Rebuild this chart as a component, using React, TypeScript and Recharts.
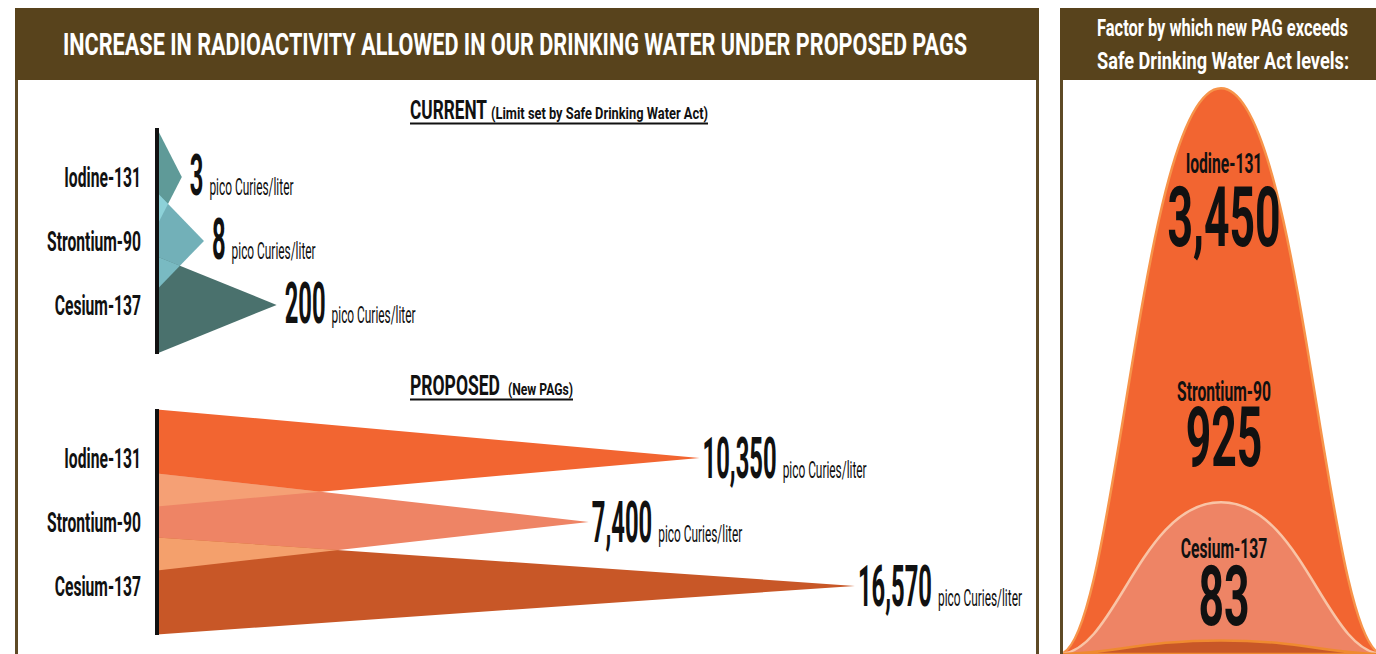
import React from 'react';
import { BarChart, Bar, XAxis, YAxis, Cell, LabelList } from 'recharts';

// --- data read from the infographic ---
const isotopes = ['Iodine-131', 'Strontium-90', 'Cesium-137'];
const currentLimits = [3, 8, 200]; // pCi/L, Safe Drinking Water Act
const proposedLimits = [10350, 7400, 16570]; // pCi/L, new PAGs
const exceedFactors = [3450, 925, 83];
const unitLabel = 'pico Curies/liter';

const currentData = isotopes.map((name, i) => ({ name, value: currentLimits[i] }));
const proposedData = isotopes.map((name, i) => ({ name, value: proposedLimits[i] }));
const factorRow = [
  { name: 'factor', iodine: exceedFactors[0], strontium: exceedFactors[1], cesium: exceedFactors[2] },
];

// --- styles ---
const HEADER = '#58431c';
const BORDER = '#5e4a26';
const FONT = 'Roboto, "Liberation Sans", sans-serif';
const CURRENT_COLORS = ['#5f9a98', '#72b0b8', '#4a716d'];
const CURRENT_OVERLAP = ['#8dd1d8', '#79bac2'];
const PROPOSED_COLORS = ['#f26531', '#ee8465', '#c85727'];
const PROPOSED_OVERLAP = ['#f5a075', '#f4a06c'];
const BELL_FILLS = ['#f26531', '#ee8465', '#c85727'];
const BELL_STROKES = ['#f7944a', '#f9c4a6', '#ef8a30'];
const TRI_HALF = 48.5;
const NUM_SX = 0.41;
const FACTOR_LABEL_Y = [173, 401, 558];
const FACTOR_VALUE_Y = [246, 466, 625];

let canvas: HTMLCanvasElement | null = null;
function measure(text: string, font: string) {
  if (!canvas) canvas = document.createElement('canvas');
  const ctx = canvas.getContext('2d')!;
  ctx.font = font;
  return ctx.measureText(text).width;
}

// condensed text: either squeezed to a width, or scaled horizontally
function Cond({ x, y, size, sx = 1, w, weight = 700, anchor = 'start', fill = '#111', children }: any) {
  if (w) {
    return (
      <text x={x} y={y} fontSize={size} fontWeight={weight} fontFamily={FONT} fill={fill}
        textLength={w} lengthAdjust="spacingAndGlyphs">{children}</text>
    );
  }
  return (
    <text transform={`translate(${x},${y}) scale(${sx},1)`} fontSize={size} fontWeight={weight}
      fontFamily={FONT} fill={fill} textAnchor={anchor}>{children}</text>
  );
}

function IsotopeTick({ x, y, payload }: any) {
  return <Cond x={x} y={y + 10} size={27} sx={0.58} anchor="end">{payload.value}</Cond>;
}

function makeTriangle(section: string, overlaps: string[]) {
  return (p: any) => {
    const { x, y, width, height, fill } = p;
    const idx = isotopes.indexOf(p.payload?.name ?? p.name);
    const cy = y + height / 2;
    const pts = `${x},${cy - TRI_HALF} ${x + width},${cy} ${x},${cy + TRI_HALF}`;
    return (
      <g>
        <clipPath id={`${section}-clip-${idx}`}>
          <polygon points={pts} />
        </clipPath>
        <polygon points={pts} fill={fill} />
        {idx > 0 && (
          <polygon points={pts} fill={overlaps[idx - 1]} clipPath={`url(#${section}-clip-${idx - 1})`} />
        )}
      </g>
    );
  };
}

function makeValueLabel(gap: number, drop: number) {
  return (p: any) => {
    const vb = p.viewBox ?? p;
    const { x, y, width, height } = vb;
    const cy = y + height / 2;
    const lx = x + width + gap;
    const str = Number(p.value).toLocaleString('en-US');
    const numW = measure(str, `700 58px Roboto`) * NUM_SX;
    return (
      <g>
        <Cond x={lx} y={cy + drop} size={58} sx={NUM_SX}>{str}</Cond>
        <Cond x={lx + numW + 6} y={cy + drop} size={24} weight={400} w={84}>{unitLabel}</Cond>
      </g>
    );
  };
}

function BellShape(p: any) {
  const { x, y, width, height, fill, stroke } = p;
  const cx = x + width / 2;
  const top = y;
  const base = y + height;
  const W = 162;
  const c1 = 0.5;
  const c2 = 0.65;
  const d = `M ${cx - W},${base} C ${cx - c2 * W},${base} ${cx - c1 * W},${top} ${cx},${top} ` +
    `C ${cx + c1 * W},${top} ${cx + c2 * W},${base} ${cx + W},${base} Z`;
  return <path d={d} fill={fill} stroke={stroke} strokeWidth={2.5} />;
}

function TriangleChart({ data, colors, overlaps, section, domain, plotW, top, gap, drop }: any) {
  return (
    <div style={{ position: 'absolute', left: 0, top, width: 1036, height: 250 }}>
      <BarChart width={1036} height={250} data={data} layout="vertical"
        margin={{ top: 10, right: 1036 - 157 - plotW, bottom: 14, left: 18 }}>
        <XAxis type="number" scale="log" domain={domain} hide allowDataOverflow />
        <YAxis type="category" dataKey="name" width={139} tickSize={0} tickMargin={16}
          axisLine={{ stroke: '#111', strokeWidth: 4 }} tickLine={false}
          padding={{ top: 17, bottom: 17 }} tick={<IsotopeTick />} />
        <Bar dataKey="value" isAnimationActive={false} shape={makeTriangle(section, overlaps)}>
          {data.map((d: any, i: number) => <Cell key={d.name} fill={colors[i]} />)}
          <LabelList dataKey="value" content={makeValueLabel(gap, drop)} />
        </Bar>
      </BarChart>
    </div>
  );
}

export default function App() {
  return (
    <div style={{ position: 'relative', width: 1376, height: 654, overflow: 'hidden', background: '#fff' }}>
      <style>{'body{margin:0;overflow:hidden}'}</style>

      {/* panel frames */}
      <div style={{ position: 'absolute', left: 15, top: 8, width: 1024, height: 72, background: HEADER }} />
      <div style={{ position: 'absolute', left: 15, top: 80, width: 3, height: 574, background: BORDER }} />
      <div style={{ position: 'absolute', left: 1036, top: 80, width: 3, height: 574, background: BORDER }} />
      <div style={{ position: 'absolute', left: 1060, top: 8, width: 316, height: 72, background: HEADER }} />
      <div style={{ position: 'absolute', left: 1060, top: 80, width: 3, height: 574, background: BORDER }} />

      <TriangleChart data={currentData} colors={CURRENT_COLORS} overlaps={CURRENT_OVERLAP}
        section="cur" domain={[1, 100000]} plotW={260} top={118} gap={8} drop={18} />
      <TriangleChart data={proposedData} colors={PROPOSED_COLORS} overlaps={PROPOSED_OVERLAP}
        section="prop" domain={[2000, 20000]} plotW={760} top={399} gap={3} drop={20} />

      {/* factor bells */}
      <div style={{ position: 'absolute', left: 1063, top: 80, width: 316, height: 574 }}>
        <BarChart width={316} height={574} data={factorRow} margin={{ top: 0, right: 0, bottom: 0, left: 0 }}
          barSize={10} barGap={-10}>
          <XAxis dataKey="name" hide />
          <YAxis hide domain={[0, 3500]} />
          {['iodine', 'strontium', 'cesium'].map((k, i) => (
            <Bar key={k} dataKey={k} isAnimationActive={false} fill={BELL_FILLS[i]} stroke={BELL_STROKES[i]}
              shape={BellShape} />
          ))}
        </BarChart>
      </div>

      {/* text overlay */}
      <svg width={1376} height={654} style={{ position: 'absolute', left: 0, top: 0, pointerEvents: 'none' }}>
        <Cond x={63} y={55} size={31} w={904} fill="#fff">
          INCREASE IN RADIOACTIVITY ALLOWED IN OUR DRINKING WATER UNDER PROPOSED PAGS
        </Cond>
        <Cond x={1097} y={36} size={24} w={251} fill="#fff">Factor by which new PAG exceeds</Cond>
        <Cond x={1097} y={69} size={24} w={252} fill="#fff">Safe Drinking Water Act levels:</Cond>

        <Cond x={410} y={119} size={26} w={77}>CURRENT</Cond>
        <Cond x={491} y={119} size={17} w={217}>(Limit set by Safe Drinking Water Act)</Cond>
        <line x1={410} x2={708} y1={123.5} y2={123.5} stroke="#111" strokeWidth={2} />

        <Cond x={410} y={395} size={27} w={90}>PROPOSED</Cond>
        <Cond x={508} y={395} size={17} w={65}>(New PAGs)</Cond>
        <line x1={410} x2={573} y1={399.5} y2={399.5} stroke="#111" strokeWidth={2} />

        {isotopes.map((name, i) => (
          <g key={name}>
            <Cond x={1224} y={FACTOR_LABEL_Y[i]} size={27} sx={0.58} anchor="middle">{name}</Cond>
            <Cond x={1224} y={FACTOR_VALUE_Y[i]} size={84} sx={0.53} anchor="middle">
              {exceedFactors[i].toLocaleString('en-US')}
            </Cond>
          </g>
        ))}
      </svg>
    </div>
  );
}
